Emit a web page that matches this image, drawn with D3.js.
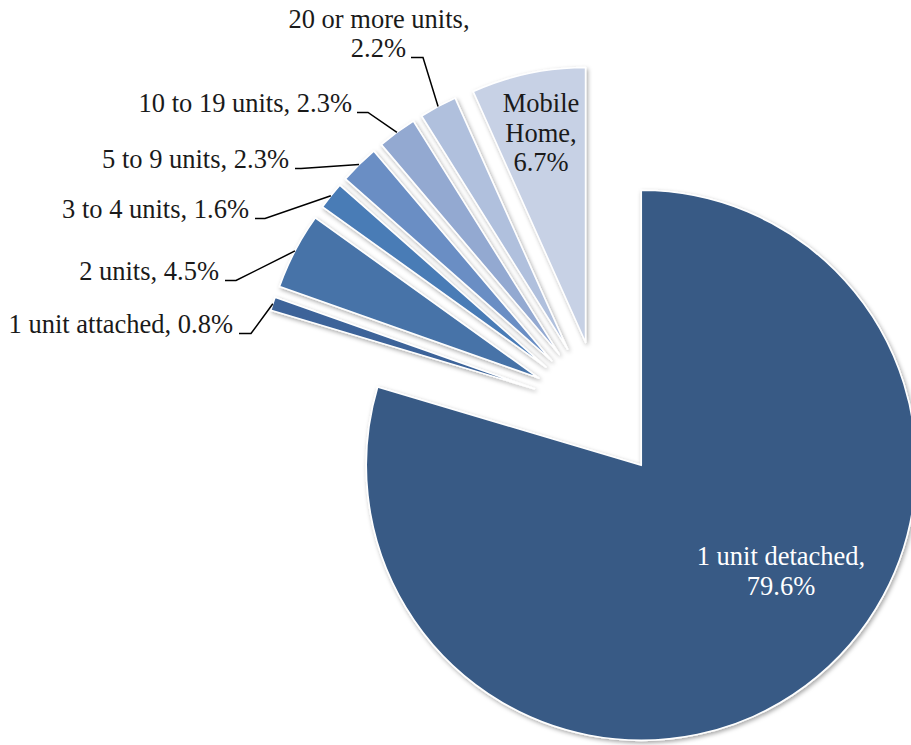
<!DOCTYPE html>
<html>
<head>
<meta charset="utf-8">
<script src="https://cdn.jsdelivr.net/npm/d3@7"></script>
<style>
  html, body { margin: 0; padding: 0; background: #fff; }
  svg { display: block; }
  text { font-family: "Liberation Serif", "Times New Roman", serif; }
</style>
</head>
<body>
<svg id="chart" width="911" height="745"></svg>
<script>
// ---- data ----
const categories = ["1 unit detached", "1 unit attached", "2 units", "3 to 4 units",
  "5 to 9 units", "10 to 19 units", "20 or more units", "Mobile Home"];
const shares = [79.6, 0.8, 4.5, 1.6, 2.3, 2.3, 2.2, 6.7];
const colors = ["#375a85", "#3c6399", "#4673a8", "#4a7bb6", "#6a8ec4", "#93a9d1", "#b0c0dd", "#c7d1e5"];

// ---- layout ----
const W = 911, H = 745;
const cx = 600, cy = 410, R = 275, explode = 69;
const fontSize = 26.5;

// label layout: "in" = inside slice (lines centred), "out" = outside with leader line
const labelLayout = [
  { type: "in", x: 781, y: 565, lines: ["1 unit detached,", "79.6%"], fill: "#ffffff" },
  { type: "out", x: 233, y: 333, elbow: [239, 251] },
  { type: "out", x: 219, y: 280, elbow: [225, 236] },
  { type: "out", x: 249, y: 218, elbow: [255, 265] },
  { type: "out", x: 289, y: 168, elbow: [295, 301] },
  { type: "out", x: 352, y: 112, elbow: [357, 368] },
  { type: "out2", x: 379, y: 28, x2: 406, y2: 57, elbow: [411, 423] },
  { type: "in", x: 541, y: 112, lines: ["Mobile", "Home,", "6.7%"], fill: "#1a1a1a" }
];

const svg = d3.select("#chart");
const defs = svg.append("defs");
const f = defs.append("filter").attr("id", "shadow")
  .attr("x", "-20%").attr("y", "-20%").attr("width", "140%").attr("height", "140%");
f.append("feDropShadow").attr("dx", 1.5).attr("dy", 2).attr("stdDeviation", 2.2)
  .attr("flood-color", "#000").attr("flood-opacity", 0.35);

const data = categories.map((c, i) => ({ name: c, value: shares[i], color: colors[i], i }));
const pie = d3.pie().sort(null).value(d => d.value).startAngle(0).endAngle(2 * Math.PI);
const arcs = pie(data);
const arc = d3.arc().innerRadius(0).outerRadius(R);

function dir(a) { return [Math.sin(a), -Math.cos(a)]; }

const g = svg.append("g").attr("transform", `translate(${cx},${cy})`);

arcs.forEach(a => {
  const mid = (a.startAngle + a.endAngle) / 2;
  const [dx, dy] = dir(mid);
  a.ox = dx * explode; a.oy = dy * explode; a.mid = mid;
});

g.selectAll("path.slice").data(arcs).enter().append("path")
  .attr("class", "slice")
  .attr("transform", d => `translate(${d.ox},${d.oy})`)
  .attr("d", arc)
  .attr("fill", d => d.data.color)
  .attr("stroke", "#ffffff")
  .attr("stroke-width", 1.6)
  .attr("stroke-linejoin", "round")
  .attr("filter", "url(#shadow)");

// labels
const lab = svg.append("g").attr("font-size", fontSize).attr("fill", "#1a1a1a");

arcs.forEach((a, i) => {
  const L = labelLayout[i];
  const label = `${a.data.name}, ${a.data.value.toFixed(1)}%`;
  if (L.type === "in") {
    const t = lab.append("text").attr("text-anchor", "middle").attr("fill", L.fill);
    L.lines.forEach((ln, k) => {
      t.append("tspan").attr("x", L.x).attr("y", L.y + k * 29.5).text(ln);
    });
    return;
  }
  const [ux, uy] = dir(a.mid);
  const px = cx + a.ox + ux * R;
  const py = cy + a.oy + uy * R;
  let lineY;
  if (L.type === "out") {
    lab.append("text").attr("text-anchor", "end").attr("x", L.x).attr("y", L.y).text(label);
    lineY = L.y + 0.5;
  } else {
    lab.append("text").attr("text-anchor", "middle").attr("x", L.x).attr("y", L.y).text(a.data.name + ",");
    lab.append("text").attr("text-anchor", "end").attr("x", L.x2).attr("y", L.y2).text(a.data.value.toFixed(1) + "%");
    lineY = L.y2 + 0.5;
  }
  svg.append("path")
    .attr("d", `M${L.elbow[0]},${lineY}L${L.elbow[1]},${lineY}L${px},${py}`)
    .attr("fill", "none").attr("stroke", "#000").attr("stroke-width", 1.5);
});
</script>
</body>
</html>
